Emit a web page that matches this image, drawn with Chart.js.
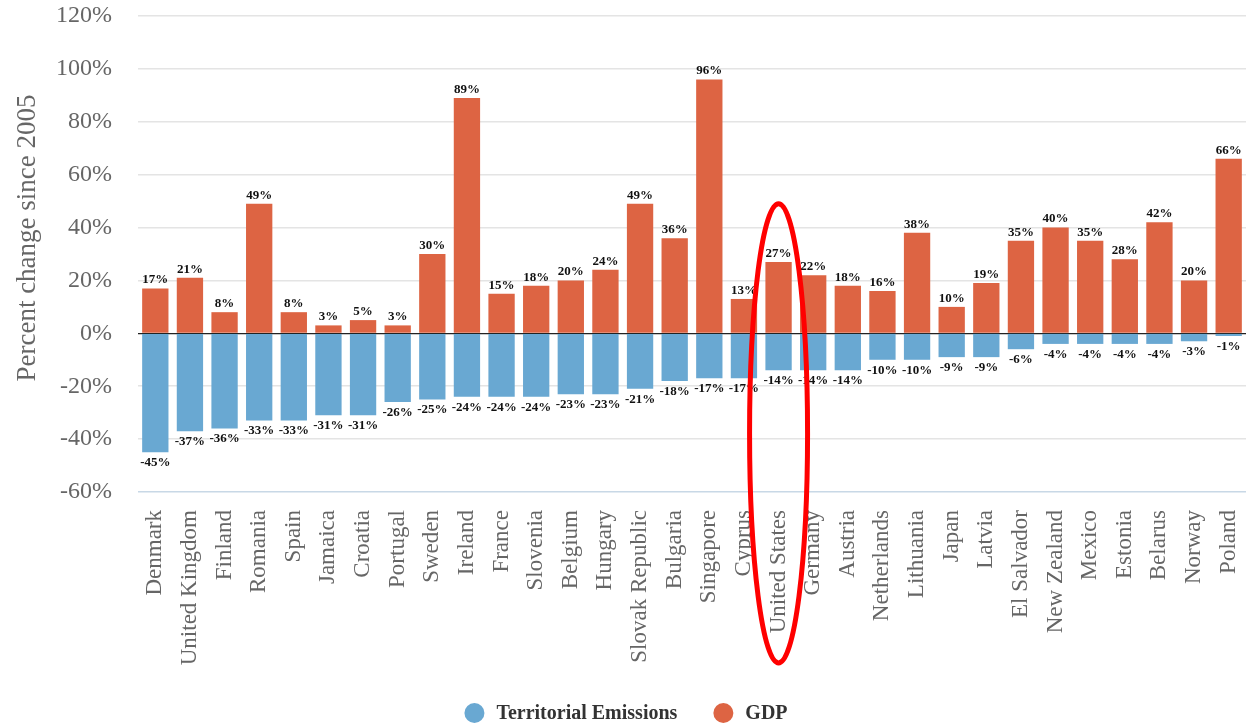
<!DOCTYPE html>
<html>
<head>
<meta charset="utf-8">
<script src="https://cdn.jsdelivr.net/npm/chart.js@4/dist/chart.umd.min.js"></script>
<style>
  html, body { margin: 0; padding: 0; background: #fff; }
  #wrap { width: 1246px; height: 725px; position: relative; }
</style>
</head>
<body>
<div id="wrap"><canvas id="chart"></canvas></div>
<script>
// Countries, in the order shown
const countries = ['Denmark', 'United Kingdom', 'Finland', 'Romania', 'Spain', 'Jamaica', 'Croatia', 'Portugal',
    'Sweden', 'Ireland', 'France', 'Slovenia', 'Belgium', 'Hungary', 'Slovak Republic', 'Bulgaria',
    'Singapore', 'Cyprus', 'United States', 'Germany', 'Austria', 'Netherlands', 'Lithuania', 'Japan',
    'Latvia', 'El Salvador', 'New Zealand', 'Mexico', 'Estonia', 'Belarus', 'Norway', 'Poland'];

// Percent change since 2005
const emissions = [-45, -37, -36, -33, -33, -31, -31, -26, -25, -24, -24, -24, -23, -23, -21, -18,
    -17, -17, -14, -14, -14, -10, -10, -9, -9, -6, -4, -4, -4, -4, -3, -1];
const gdp = [17, 21, 8, 49, 8, 3, 5, 3, 30, 89, 15, 18, 20, 24, 49, 36,
    96, 13, 27, 22, 18, 16, 38, 10, 19, 35, 40, 35, 28, 42, 20, 66];

const yTitle = 'Percent change since 2005';
const highlighted = 'United States';

const serif = '"Liberation Serif", "DejaVu Serif", serif';

// bar value labels
const valueLabels = {
    id: 'valueLabels',
    afterDatasetsDraw(chart) {
        const ctx = chart.ctx;
        ctx.save();
        ctx.font = 'bold 13px ' + serif;
        ctx.fillStyle = '#111';
        ctx.textAlign = 'center';
        chart.data.datasets.forEach((ds, i) => {
            const meta = chart.getDatasetMeta(i);
            meta.data.forEach((bar, j) => {
                const v = ds.data[j];
                if (v >= 0) {
                    ctx.textBaseline = 'bottom';
                    ctx.fillText(v + '%', bar.x, bar.y - 2);
                } else {
                    ctx.textBaseline = 'top';
                    ctx.fillText(v + '%', bar.x, bar.y + 4);
                }
            });
        });
        ctx.restore();
    }
};

// y title + legend drawn by hand (positions follow the original)
const extras = {
    id: 'extras',
    afterDraw(chart) {
        const ctx = chart.ctx;
        ctx.save();
        ctx.translate(28, 238);
        ctx.rotate(-Math.PI / 2);
        ctx.font = '27px ' + serif;
        ctx.fillStyle = '#666';
        ctx.textAlign = 'center';
        ctx.textBaseline = 'middle';
        ctx.fillText(yTitle, 0, 0);
        ctx.restore();

        // legend: emissions first, then GDP
        ctx.save();
        ctx.font = 'bold 20px ' + serif;
        ctx.textBaseline = 'middle';
        ctx.textAlign = 'left';
        const items = chart.data.datasets.map(ds => ({ text: ds.label, color: ds.backgroundColor }));
        const r = 10, gap = 12, between = 36;
        let total = 0;
        items.forEach((it, i) => {
            it.w = ctx.measureText(it.text).width;
            total += 2 * r + gap + it.w + (i > 0 ? between : 0);
        });
        let x = 626 - total / 2;
        const y = 713;
        items.forEach(it => {
            ctx.fillStyle = it.color;
            ctx.beginPath();
            ctx.arc(x + r, y, r, 0, Math.PI * 2);
            ctx.fill();
            ctx.fillStyle = '#333';
            ctx.fillText(it.text, x + 2 * r + gap, y + 1);
            x += 2 * r + gap + it.w + between;
        });
        ctx.restore();

        // red ring around one country
        const cx = chart.scales.x.getPixelForValue(countries.indexOf(highlighted));
        const top = chart.scales.y.getPixelForValue(49);
        const bottom = chart.chartArea.bottom + 171;
        ctx.save();
        ctx.strokeStyle = '#ff0000';
        ctx.lineWidth = 5;
        ctx.beginPath();
        ctx.ellipse(cx, (top + bottom) / 2, 29, (bottom - top) / 2, 0, 0, Math.PI * 2);
        ctx.stroke();
        ctx.restore();
    }
};

new Chart(document.getElementById('chart'), {
    type: 'bar',
    data: {
        labels: countries,
        datasets: [
            {
                label: 'Territorial Emissions',
                data: emissions,
                backgroundColor: '#69A8D2',
                barPercentage: 0.76,
                categoryPercentage: 1.0
            },
            {
                label: 'GDP',
                data: gdp,
                backgroundColor: '#DD6443',
                barPercentage: 0.76,
                categoryPercentage: 1.0
            }
        ]
    },
    options: {
        responsive: true,
        maintainAspectRatio: false,
        animation: false,
        layout: { padding: { top: 16, right: 0, left: 0, bottom: 0 } },
        scales: {
            x: {
                stacked: true,
                grid: { display: false },
                border: { display: false },
                ticks: {
                    color: '#666',
                    font: { family: serif, size: 23 },
                    minRotation: 90,
                    maxRotation: 90,
                    autoSkip: false,
                    padding: 10
                },
                afterFit(scale) {
                    scale.height = 233;
                    scale.paddingLeft = 0;
                    scale.paddingRight = 0;
                }
            },
            y: {
                stacked: true,
                min: -60,
                max: 120,
                border: { display: false },
                grid: {
                    color: c => c.tick.value === 0 ? '#222' : (c.tick.value === -60 ? '#c8d8e6' : '#e4e4e4'),
                    lineWidth: c => c.tick.value === 0 ? 1.2 : 1.5,
                    drawTicks: false
                },
                ticks: {
                    stepSize: 20,
                    color: '#666',
                    font: { family: serif, size: 24 },
                    padding: 26,
                    callback: v => v + '%'
                },
                afterFit(scale) {
                    scale.width = 138;
                    scale.paddingTop = 0;
                    scale.paddingBottom = 0;
                }
            }
        },
        plugins: {
            legend: { display: false },
            tooltip: { enabled: false }
        }
    },
    plugins: [valueLabels, extras]
});
</script>
</body>
</html>
